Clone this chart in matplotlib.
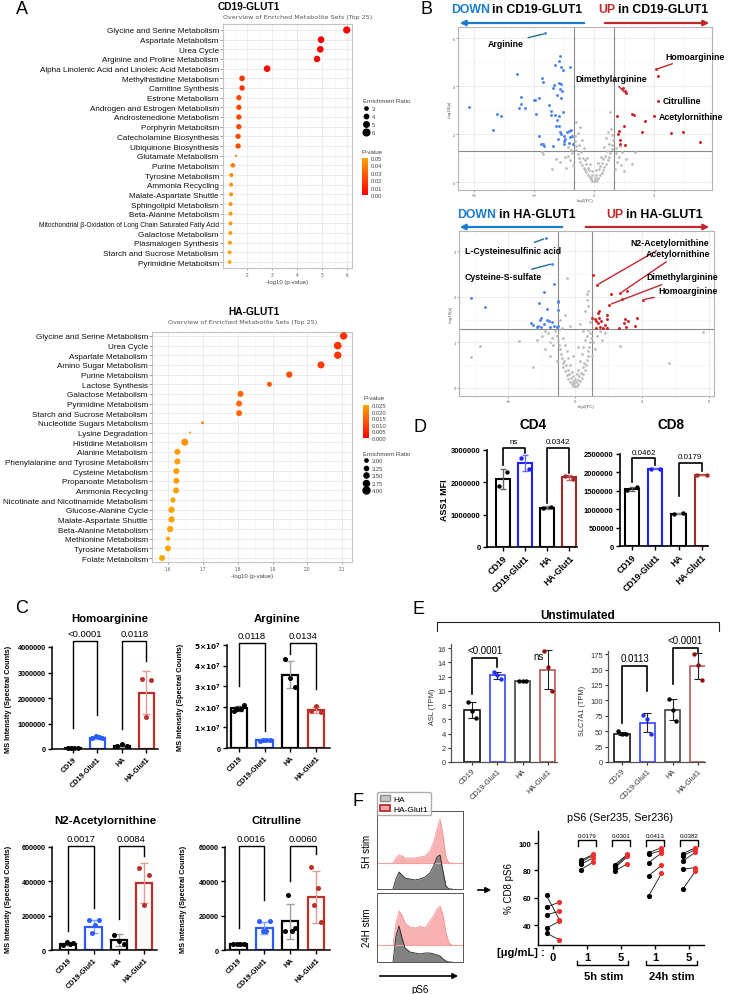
import numpy as np
import matplotlib
matplotlib.use('Agg')
import matplotlib.pyplot as plt
import matplotlib.transforms as mtrans
from matplotlib.colors import LinearSegmentedColormap, Normalize
from matplotlib.lines import Line2D
from matplotlib.patches import Patch, FancyArrowPatch
from matplotlib.ticker import AutoMinorLocator
from matplotlib import cm

plt.rcParams['font.family'] = ['Liberation Sans', 'DejaVu Sans']

# ---------------- A : enrichment data ----------------
cd19_sets = ['Glycine and Serine Metabolism', 'Aspartate Metabolism', 'Urea Cycle',
             'Arginine and Proline Metabolism', 'Alpha Linolenic Acid and Linoleic Acid Metabolism',
             'Methylhistidine Metabolism', 'Carnitine Synthesis', 'Estrone Metabolism',
             'Androgen and Estrogen Metabolism', 'Androstenedione Metabolism', 'Porphyrin Metabolism',
             'Catecholamine Biosynthesis', 'Ubiquinone Biosynthesis', 'Glutamate Metabolism',
             'Purine Metabolism', 'Tyrosine Metabolism', 'Ammonia Recycling', 'Malate-Aspartate Shuttle',
             'Sphingolipid Metabolism', 'Beta-Alanine Metabolism',
             'Mitochondrial β-Oxidation of Long Chain Saturated Fatty Acid', 'Galactose Metabolism',
             'Plasmalogen Synthesis', 'Starch and Sucrose Metabolism', 'Pyrimidine Metabolism']
cd19_logp = [5.99, 4.96, 4.93, 4.8, 2.8, 1.8, 1.8, 1.67, 1.67, 1.67, 1.67, 1.64, 1.64,
             1.55, 1.43, 1.37, 1.36, 1.36, 1.34, 1.34, 1.34, 1.33, 1.31, 1.3, 1.3]
cd19_er = [6.5, 6.0, 6.0, 5.8, 6.0, 5.1, 4.9, 4.8, 4.8, 4.8, 4.8, 4.8, 4.8,
           1.9, 4.2, 3.7, 3.6, 3.6, 3.6, 3.6, 3.6, 3.6, 3.7, 3.6, 3.5]

ha_sets = ['Glycine and Serine Metabolism', 'Urea Cycle', 'Aspartate Metabolism', 'Amino Sugar Metabolism',
           'Purine Metabolism', 'Lactose Synthesis', 'Galactose Metabolism', 'Pyrimidine Metabolism',
           'Starch and Sucrose Metabolism', 'Nucleotide Sugars Metabolism', 'Lysine Degradation',
           'Histidine Metabolism', 'Alanine Metabolism', 'Phenylalanine and Tyrosine Metabolism',
           'Cysteine Metabolism', 'Propanoate Metabolism', 'Ammonia Recycling',
           'Nicotinate and Nicotinamide Metabolism', 'Glucose-Alanine Cycle', 'Malate-Aspartate Shuttle',
           'Beta-Alanine Metabolism', 'Methionine Metabolism', 'Tyrosine Metabolism', 'Folate Metabolism']
ha_logp = [2.104, 2.087, 2.087, 2.039, 1.948, 1.891, 1.808, 1.804, 1.804, 1.699, 1.663, 1.648,
           1.627, 1.627, 1.624, 1.624, 1.623, 1.614, 1.61, 1.61, 1.606, 1.6, 1.6, 1.583]
ha_er = [4.1, 4.2, 4.1, 4.0, 3.8, 3.45, 3.73, 3.73, 3.73, 2.9, 2.65, 4.0,
         3.73, 3.73, 3.73, 3.73, 3.73, 3.55, 3.8, 3.8, 3.8, 3.27, 3.73, 3.73]

cd19_er_legend = [3, 4, 5, 6]
ha_er_legend = [3.00, 3.25, 3.50, 3.75, 4.00]

# ---------------- B : volcano data (log2FC, -log10 p) ----------------
cd19_blue_x = [-2.43, -3.83, -6.23, -4.87, -4.63, -5.03, -3.63, -3.63, -3.77, -3.47, -3.0, -2.93, -2.77,
               -2.62, -2.53, -2.9, -2.25, -2.13, -2.07, -2.0, -1.93, -1.75, -1.72, -1.63, -1.53, -1.22,
               -1.73, -1.67, -1.7, -1.6, -1.83, -1.63, -1.95, -1.73, -2.15, -1.85, -1.73, -1.7, -1.67,
               -1.5, -1.37, -1.25, -1.15, -1.1, -1.2, -1.25, -1.05, -1.48, -1.88, -1.53, -2.77, -2.65,
               -2.53, -2.52, -2.05, -1.52, -1.43, -1.8]
cd19_blue_y = [6.19, 4.49, 3.13, 2.85, 2.75, 2.18, 3.53, 3.26, 3.08, 3.08, 3.42, 3.42, 3.51,
               4.33, 4.17, 2.82, 3.22, 2.96, 3.92, 4.03, 4.86, 5.06, 5.25, 4.78, 4.68, 4.79,
               4.11, 4.08, 3.86, 3.79, 3.61, 3.51, 2.78, 2.75, 2.78, 2.58, 2.33, 2.08, 1.99,
               1.92, 2.08, 2.14, 2.19, 1.94, 1.88, 1.64, 1.6, 1.57, 2.32, 2.92, 1.94, 1.58,
               1.58, 1.5, 1.49, 1.71, 1.79, 1.81]
cd19_red_x = [3.08, 3.22, 1.45, 1.53, 1.58, 3.22, 3.0, 1.15, 1.92, 1.98, 2.55, 1.52, 1.25, 1.18,
              2.42, 3.83, 4.47, 5.28, 1.3, 1.32, 1.55]
cd19_red_y = [4.69, 4.43, 3.92, 3.78, 3.69, 3.38, 2.76, 2.75, 2.82, 2.79, 2.54, 2.33, 2.11, 2.0,
              2.08, 2.03, 2.1, 1.65, 1.75, 1.58, 1.56]
cd19_grey = [(0.0, 0.03), (0.08, 0.06), (-0.08, 0.05), (0.15, 0.1), (-0.15, 0.12), (0.22, 0.18),
             (-0.22, 0.2), (0.3, 0.28), (-0.3, 0.3), (0.38, 0.38), (-0.38, 0.4), (0.45, 0.5),
             (-0.45, 0.5), (0.52, 0.62), (-0.52, 0.6), (0.6, 0.75), (-0.6, 0.72), (0.68, 0.9),
             (-0.68, 0.85), (0.75, 1.05), (-0.75, 1.0), (0.82, 1.2), (-0.82, 1.15), (0.88, 1.38),
             (-0.88, 1.32), (0.92, 1.55), (-0.92, 1.5), (0.95, 1.75), (-0.95, 1.7), (0.9, 1.95),
             (-0.97, 1.9), (0.78, 2.9), (-0.92, 2.5), (0.85, 2.2), (0.55, 1.1), (-0.55, 1.0),
             (0.4, 0.8), (-0.4, 0.75), (0.25, 0.55), (-0.25, 0.5), (0.1, 0.3), (-0.1, 0.28),
             (0.65, 1.3), (-0.65, 1.25), (0.75, 1.6), (-0.75, 1.55), (0.5, 1.45), (-0.5, 1.4),
             (0.35, 1.05), (-0.35, 1.0), (0.2, 0.8), (-0.2, 0.75), (0.6, 1.85), (-0.6, 1.75),
             (-0.8, 2.05), (0.7, 2.1), (-0.7, 2.3), (1.1, 1.2), (1.25, 1.05), (1.4, 1.25),
             (1.15, 0.85), (1.35, 0.7), (1.05, 0.55), (1.6, 0.95), (1.9, 0.75), (2.05, 1.25),
             (1.5, 0.45), (-1.1, 1.2), (-1.3, 1.1), (-1.2, 0.9), (-1.05, 0.7), (-1.45, 1.05),
             (-1.7, 0.85), (-1.9, 0.95), (-2.1, 0.55), (-2.6, 1.25), (-2.55, 1.15), (-1.4, 0.6),
             (-1.15, 1.35), (-1.3, 1.45), (1.1, 1.4), (1.3, 1.5), (-0.15, 0.15), (0.05, 0.18),
             (-0.3, 0.6), (0.3, 0.65), (-0.45, 0.9), (0.45, 0.95), (-0.1, 0.45), (0.12, 0.5)]

ha_blue_x = [-1.76, -1.36, -1.28, -6.26, -5.4, -1.88, -2.16, -1.66, -1.04, -1.02, -1.03, -2.04, -2.08,
             -1.7, -1.56, -2.64, -2.5, -2.2, -2.06, -1.84, -1.36, -1.24, -1.48, -1.04, -1.1, -2.3]
ha_blue_y = [3.29, 2.73, 2.28, 1.98, 1.78, 2.11, 1.86, 1.73, 1.9, 1.88, 1.72, 1.53, 1.49,
             1.5, 1.47, 1.42, 1.38, 1.36, 1.33, 1.41, 1.44, 1.36, 1.33, 1.37, 1.33, 1.33]
ha_red_x = [1.3, 1.06, 2.7, 2.16, 3.1, 2.06, 2.82, 4.06, 1.44, 1.36, 1.94, 1.46, 1.2, 1.02, 1.9,
            1.26, 1.4, 1.56, 1.82, 1.24, 1.5, 1.7, 1.9, 2.98, 3.2, 3.7, 2.62, 3.06, 3.56, 2.94]
ha_red_y = [2.26, 2.49, 2.08, 2.06, 2.12, 1.83, 1.96, 1.94, 1.68, 1.64, 1.6, 1.53, 1.52, 1.54, 1.52,
            1.46, 1.43, 1.48, 1.39, 1.32, 1.33, 1.31, 1.32, 1.52, 1.48, 1.53, 1.32, 1.33, 1.36, 1.42]
ha_grey = [(-0.1, 0.03), (0.0, 0.05), (0.1, 0.04), (-0.2, 0.08), (0.2, 0.08), (-0.05, 0.1), (0.05, 0.12),
           (-0.3, 0.12), (0.3, 0.14), (-0.15, 0.16), (0.15, 0.18), (-0.4, 0.2), (0.4, 0.22), (-0.25, 0.22),
           (0.25, 0.25), (-0.5, 0.28), (0.5, 0.3), (-0.35, 0.3), (0.35, 0.33), (-0.6, 0.36), (0.6, 0.4),
           (-0.45, 0.4), (0.45, 0.45), (-0.7, 0.45), (0.65, 0.5), (-0.55, 0.5), (0.55, 0.55), (-0.75, 0.55),
           (0.7, 0.62), (-0.65, 0.6), (0.75, 0.7), (-0.8, 0.65), (0.8, 0.8), (-0.85, 0.75), (0.85, 0.9),
           (-0.9, 0.85), (0.9, 1.0), (-0.95, 0.95), (0.95, 1.1), (-1.0, 1.05), (0.9, 1.2), (-1.1, 1.15),
           (0.8, 1.28), (-1.2, 1.25), (-0.2, 0.35), (0.2, 0.4), (-0.3, 0.5), (0.3, 0.6), (-0.4, 0.65),
           (0.4, 0.75), (0.5, 0.9), (-0.5, 0.8), (0.6, 1.05), (-0.6, 0.95), (0.7, 1.15), (-0.7, 1.1),
           (0.0, 0.2), (0.1, 0.3), (-0.1, 0.25), (-1.4, 1.1), (-1.6, 1.2), (-1.8, 1.25), (-1.3, 0.95),
           (-1.5, 1.0), (-2.0, 1.15), (-2.3, 1.05), (-2.5, 0.45), (-3.36, 1.03), (-5.7, 0.92),
           (-6.26, 0.67), (1.1, 1.0), (1.3, 1.15), (1.5, 1.25), (1.2, 0.85), (1.6, 1.05), (1.8, 1.2),
           (2.7, 0.92), (5.64, 0.55), (7.64, 1.22), (-0.46, 2.42), (0.8, 2.14), (0.74, 2.06), (0.7, 1.94),
           (0.75, 1.8), (0.6, 1.7), (-0.6, 1.6), (-0.9, 1.5), (0.9, 1.45), (-0.3, 1.35), (0.3, 1.4),
           (-0.8, 1.32), (0.5, 1.25), (-1.5, 0.7), (-1.1, 0.6), (-1.8, 0.85), (1.0, 0.7), (-0.15, 0.7),
           (0.15, 0.9)]

# ---------------- C / D / E : bar data ----------------
groups = ['CD19', 'CD19-Glut1', 'HA', 'HA-Glut1']

homo_mean = [50000, 450000, 130000, 2210000]
homo_sd = [15000, 50000, 40000, 830000]
homo_pts = [[45000, 50000, 55000, 50000], [420000, 500000, 480000, 430000],
            [100000, 180000, 100000], [2730000, 1260000, 2690000]]
arg_mean = [1.92e7, 3.7e6, 3.55e7, 1.85e7]
arg_sd = [1.2e6, 4e5, 6.6e6, 1.6e6]
arg_pts = [[1.81e7, 1.88e7, 1.9e7, 2.1e7], [3.5e6, 3.8e6, 4.0e6, 3.7e6],
           [4.3e7, 3.4e7, 2.96e7], [1.78e7, 2.05e7, 1.75e7]]
n2_mean = [36000, 136000, 60000, 390000]
n2_sd = [7000, 38000, 35000, 115000]
n2_pts = [[30000, 45000, 35000, 38000], [172000, 100000, 145000, 172000],
          [90000, 55000, 35000], [475000, 265000, 435000]]
cit_mean = [3500, 13000, 16750, 31000]
cit_sd = [300, 3500, 10200, 15000]
cit_pts = [[3500, 3700, 3400, 3600], [17000, 11000, 11000, 17000],
           [11000, 32000, 11000, 13000], [48500, 26000, 36000, 16500]]

cd4_mean = [2.1e6, 2.6e6, 1.22e6, 2.15e6]
cd4_sd = [0.3e6, 0.24e6, 0.035e6, 0.07e6]
cd4_pts = [[1.9e6, 2.32e6], [2.75e6, 2.41e6], [1.2e6, 1.25e6], [2.2e6, 2.1e6]]
cd8_mean = [1.55e6, 2.1e6, 0.88e6, 1.93e6]
cd8_sd = [0.05e6, 0.01e6, 0.02e6, 0.01e6]
cd8_pts = [[1.52e6, 1.6e6], [2.1e6, 2.1e6], [0.87e6, 0.9e6], [1.93e6, 1.93e6]]

asl_mean = [7.3, 12.2, 11.4, 13.0]
asl_sd = [1.1, 0.5, 0.05, 2.8]
asl_pts = [[8.4, 7.2, 6.2], [12.7, 12.2, 11.7], [11.4, 11.4, 11.45], [15.6, 13.4, 10.0]]
slc_mean = [46, 64, 85, 155]
slc_sd = [3, 16, 17, 21]
slc_pts = [[50, 46, 45], [77, 70, 46], [102, 85, 66], [175, 157, 133]]

# ---------------- F : pS6 data ----------------
stim_ticks = ['0', '1', '5', '1', '5']
ps6_ha = [[61.7, 53.2, 47.6, 37.8, 34.1], [87.3, 86.1, 84.4, 80.5], [84.1, 82.9, 81.5, 79.5],
          [92.9, 91.7, 85.6, 76.1, 61.2], [92.2, 90.5, 86.6, 81.0, 66.1]]
ps6_glut = [[43.9, 56.8, 50.2, 42.9, 29.3], [91.7, 91.0, 89.3, 86.1], [91.7, 91.0, 90.2, 84.9],
            [96.6, 94.6, 92.7, 83.7, 77.8], [96.6, 95.4, 93.4, 82.0, 79.5]]
ps6_p = ['0.0179', '0.0301', '0.0413', '0.0382']

hist_pos = [18.6, 22.1, 25.6, 29.1, 32.6, 38.4, 44.2, 50.0, 55.8, 61.6, 66.3, 69.8, 73.3, 76.7, 80.2, 83.7, 87.2]
h5_glut = [0, 5, 8, 7, 5, 5, 5, 6, 7, 12, 22, 34, 44, 28, 6, 0, 0]
h5_ha = [0, 10, 17, 14, 11, 10, 9, 10, 12, 16, 24, 32, 34, 18, 3, 0, 0]
h24_glut = [0, 22, 34, 30, 22, 18, 17, 19, 17, 24, 30, 36, 39, 30, 12, 2, 0]
h24_ha = [0, 26, 36, 24, 14, 10, 9, 8, 9, 9, 8, 7, 6, 3, 1, 0, 0]

# ---------------- figure helpers ----------------
W, H = 729, 995
fig = plt.figure(figsize=(W / 100, H / 100), dpi=100)


def px_ax(l, t, r, b):
    return fig.add_axes([l / W, 1 - b / H, (r - l) / W, (b - t) / H])


def ftext(x, y, s, **kw):
    kw.setdefault('va', 'center')
    fig.text(x / W, 1 - y / H, s, **kw)


def fline(xs, ys, **kw):
    fig.add_artist(Line2D([x / W for x in xs], [1 - y / H for y in ys], **kw))


def farrow(x1, y1, x2, y2, color, lw=1.6, ms=8):
    fig.add_artist(FancyArrowPatch((x1 / W, 1 - y1 / H), (x2 / W, 1 - y2 / H), transform=fig.transFigure,
                                   arrowstyle='-|>', mutation_scale=ms, color=color, lw=lw))


pcmap = LinearSegmentedColormap.from_list('pv', ['#ff0000', '#ff5200', '#ffa500'])


def enrich(ax, names, logp, er, pmax, d0, dk, xl, xr, xticks, pad):
    y = np.arange(len(names))
    pv = 10.0 ** (-np.asarray(logp))
    d = d0 + (np.asarray(er) - 3) * dk
    ax.scatter(logp, y, s=(d * 0.72) ** 2, c=pv, cmap=pcmap, vmin=0, vmax=pmax, lw=0, zorder=3)
    ax.set_xlim(xl, xr)
    ax.set_ylim(len(names) - 1 + pad, -pad)
    ax.set_yticks(y)
    ax.set_yticklabels(names, fontsize=5.85, color='#111')
    ax.set_xticks(xticks)
    ax.set_xticklabels([('%g' % v) for v in xticks])
    ax.xaxis.set_minor_locator(AutoMinorLocator(2))
    ax.grid(which='major', color='#e4e4e4', lw=0.5)
    ax.grid(which='minor', axis='x', color='#efefef', lw=0.4)
    ax.set_axisbelow(True)
    for s in ax.spines.values():
        s.set_color('#c4c4c4')
        s.set_linewidth(0.8)
    ax.tick_params(axis='x', which='both', labelsize=3.3, colors='#555', length=1.5, width=0.4, pad=1.5)
    ax.tick_params(axis='x', which='minor', length=0)
    ax.tick_params(axis='y', length=2, width=0.4, color='#555', pad=1)
    ax.set_xlabel('-log10 (p-value)', fontsize=4.3, color='#444', labelpad=1.5)
    return d0, dk


def er_legend(ax, vals, d0, dk, x, y, fmt, spacing):
    hs = [Line2D([], [], marker='o', ls='', color='k', markersize=(d0 + (v - 3) * dk) * 0.72) for v in vals]
    leg = ax.legend(hs, [fmt % v for v in vals], title='Enrichment Ratio', loc='upper left',
                    bbox_to_anchor=(x / W, 1 - y / H), bbox_transform=fig.transFigure, frameon=False,
                    fontsize=4.2, title_fontsize=4.5, labelspacing=spacing, handletextpad=0.6,
                    borderpad=0, handlelength=1.0, alignment='left')
    leg.get_title().set_color('#444')
    for t in leg.get_texts():
        t.set_color('#444')


def p_colorbar(l, t, r, b, pmax, ticks, fmt, ty):
    cax = px_ax(l, t, r, b)
    sm = cm.ScalarMappable(norm=Normalize(0, pmax), cmap=pcmap)
    cb = fig.colorbar(sm, cax=cax, ticks=ticks)
    cb.outline.set_visible(False)
    cb.ax.set_yticklabels([fmt % v for v in ticks])
    cax.tick_params(labelsize=4.2, length=0, pad=2, colors='#444')
    ftext(l, ty, 'P-value', fontsize=4.5, color='#444', ha='left')


def volcano(ax, grey, bx, by, rx, ry, xl, xr, yb, yt, xticks, yticks):
    g = np.array(grey).T
    ax.scatter(g[0], g[1], s=4, color='#bdbdbd', lw=0, zorder=2)
    ax.scatter(bx, by, s=4.5, color='#4f86ec', lw=0, zorder=3)
    ax.scatter(rx, ry, s=4.5, color='#d11f1f', lw=0, zorder=3)
    for v in (-1, 1):
        ax.axvline(v, color='#8a8a8a', lw=0.8, zorder=1)
    ax.axhline(1.3, color='#8a8a8a', lw=0.8, zorder=1)
    ax.set_xlim(xl, xr)
    ax.set_ylim(yb, yt)
    ax.set_xticks(xticks)
    ax.set_yticks(yticks)
    ax.xaxis.set_minor_locator(AutoMinorLocator(2))
    ax.yaxis.set_minor_locator(AutoMinorLocator(2))
    ax.grid(which='major', color='#e6e6e6', lw=0.5)
    ax.grid(which='minor', color='#f1f1f1', lw=0.4)
    ax.set_axisbelow(True)
    for s in ax.spines.values():
        s.set_color('#b5b5b5')
        s.set_linewidth(0.8)
    ax.tick_params(which='both', labelsize=3, colors='#666', length=1.2, width=0.4, pad=1)
    ax.tick_params(which='minor', length=0)
    ax.set_xlabel('log2(FC)', fontsize=3.2, color='#555', labelpad=1)
    ax.set_ylabel('-log10(p)', fontsize=3.2, color='#555', labelpad=1)


def vlabel(ax, text, xy, xytext, color, ha='center'):
    ax.annotate(text, xy=xy, xytext=xytext, fontsize=6.3, fontweight='bold', ha=ha, va='center',
                arrowprops=dict(arrowstyle='-', color=color, lw=1.0, shrinkA=1, shrinkB=1.5),
                annotation_clip=False, zorder=6)


def bar_panel(ax, means, sds, pts, edges, ecols, bw, blw, ms, cap=3, elw=1.0):
    x = np.arange(len(means))
    ax.bar(x, means, width=bw, color='white', edgecolor=edges, linewidth=blw, zorder=2)
    for i in range(len(means)):
        ax.errorbar(x[i], means[i], yerr=sds[i], fmt='none', ecolor=ecols[i], elinewidth=elw,
                    capsize=cap, capthick=elw, zorder=3)
        n = len(pts[i])
        offs = np.linspace(-0.2, 0.2, n) if n > 1 else np.zeros(1)
        ax.scatter(x[i] + offs, pts[i], s=ms, color=edges[i], lw=0, zorder=4, clip_on=False)
    for s in ('top', 'right'):
        ax.spines[s].set_visible(False)
    ax.set_xticks(x)


def brackets(ax, brk, fs, lw=1.0, color='k'):
    for i, j, top, li, lj, lab in brk:
        ax.plot([i, i, j, j], [li, top, top, lj], color=color, lw=lw, clip_on=False, zorder=5)
        ax.annotate(lab, xy=((i + j) / 2, top), xytext=(0, 2), textcoords='offset points',
                    ha='center', va='bottom', fontsize=fs, annotation_clip=False)


# ================= Panel A =================
ax = px_ax(223, 25, 352, 269)
d0, dk = enrich(ax, cd19_sets, cd19_logp, cd19_er, 0.05, 3.3, 1.13, 1.036, 6.2, [2, 3, 4, 5, 6], 0.62)
ax.get_yticklabels()[20].set_fontsize(4.8)
ftext(249, 7, 'CD19-GLUT1', fontsize=7.3, fontweight='bold', ha='center')
ftext(223, 17, 'Overview of Enriched Metabolite Sets (Top 25)', fontsize=4.6, color='#555',
      family='DejaVu Sans', ha='left')
er_legend(ax, cd19_er_legend, d0, dk, 360, 96, '%g', 0.5)
p_colorbar(362, 159, 368, 196, 0.05, [0, 0.01, 0.02, 0.03, 0.04, 0.05], '%.2f', 153)

ax = px_ax(152, 333, 352, 563)
d0, dk = enrich(ax, ha_sets, ha_logp, ha_er, 0.025, 3.3, 3.7, 1.554, 2.128, [1.6, 1.7, 1.8, 1.9, 2.0, 2.1], 0.41)
ax.set_xticklabels(['1.6', '1.7', '1.8', '1.9', '2.0', '2.1'])
ftext(254, 312, 'HA-GLUT1', fontsize=7.3, fontweight='bold', ha='center')
ftext(243, 323, 'Overview of Enriched Metabolite Sets (Top 25)', fontsize=4.6, color='#555',
      family='DejaVu Sans', ha='center')
p_colorbar(363, 406, 369, 439, 0.025, [0, 0.005, 0.01, 0.015, 0.02, 0.025], '%.3f', 399)
er_legend(ax, ha_er_legend, d0, dk, 360, 449, '%.2f', 0.4)

# ================= Panel B =================
blue_c, red_c = '#1b7ccf', '#c0282d'
ftext(451, 10, 'DOWN', fontsize=8.8, fontweight='bold', color=blue_c, ha='left')
ftext(492, 10, 'in CD19-GLUT1', fontsize=8.8, fontweight='bold', ha='left')
ftext(598, 10, 'UP', fontsize=8.8, fontweight='bold', color=red_c, ha='left')
ftext(618, 10, 'in CD19-GLUT1', fontsize=8.8, fontweight='bold', ha='left')
farrow(587, 24, 457, 24, blue_c)
farrow(602, 24, 712, 24, red_c)

ax = px_ax(458, 28, 712, 191)
volcano(ax, cd19_grey, cd19_blue_x, cd19_blue_y, cd19_red_x, cd19_red_y, -6.8, 5.9, -0.33, 6.46,
        [-6, -3, 0, 3], [0, 2, 4, 6])
vlabel(ax, 'Arginine', (cd19_blue_x[0], cd19_blue_y[0]), (-4.4, 5.79), '#1f6f8b')
vlabel(ax, 'Homoarginine', (cd19_red_x[0], cd19_red_y[0]), (5.05, 5.25), red_c)
vlabel(ax, 'Dimethylarginine', (cd19_red_x[4], cd19_red_y[4]), (0.85, 4.33), red_c)
vlabel(ax, 'Citrulline', (cd19_red_x[5], cd19_red_y[5]), (3.45, 3.38), red_c, ha='left')
vlabel(ax, 'Acetylornithine', (cd19_red_x[6], cd19_red_y[6]), (3.25, 2.75), red_c, ha='left')

ftext(457, 215, 'DOWN', fontsize=8.8, fontweight='bold', color=blue_c, ha='left')
ftext(499, 215, 'in HA-GLUT1', fontsize=8.8, fontweight='bold', ha='left')
ftext(606, 215, 'UP', fontsize=8.8, fontweight='bold', color=red_c, ha='left')
ftext(626, 215, 'in HA-GLUT1', fontsize=8.8, fontweight='bold', ha='left')
farrow(565, 228, 457, 228, blue_c)
farrow(583, 228, 712, 228, red_c)

ax = px_ax(459, 232, 714, 397)
volcano(ax, ha_grey, ha_blue_x, ha_blue_y, ha_red_x, ha_red_y, -6.95, 8.32, -0.18, 3.45,
        [-4, 0, 4, 8], [0, 1, 2, 3])
vlabel(ax, 'L-Cysteinesulfinic acid', (ha_blue_x[0], ha_blue_y[0]), (-3.71, 3.03), '#1f6f8b')
vlabel(ax, 'Cysteine-S-sulfate', (ha_blue_x[1], ha_blue_y[1]), (-4.31, 2.44), '#1f6f8b')
vlabel(ax, 'N2-Acetylornithine', (ha_red_x[0], ha_red_y[0]), (5.69, 3.19), red_c)
vlabel(ax, 'Acetylornithine', (ha_red_x[2], ha_red_y[2]), (6.17, 2.95), red_c)
vlabel(ax, 'Dimethylarginine', (ha_red_x[5], ha_red_y[5]), (6.41, 2.44), red_c)
vlabel(ax, 'Homoarginine', (ha_red_x[7], ha_red_y[7]), (6.77, 2.13), red_c)

# ================= Panel C =================
c_edges = ['#000000', '#2a5cff', '#000000', '#b8322a']
c_err = ['#555555', '#7fa3ff', '#a0a0a0', '#e59b94']


def c_panel(l, t, r, b, xl, xr, means, sds, pts, ytop, yticks, ylabels, brk, title, tx, ty, lx):
    ax = px_ax(l, t, r, b)
    bar_panel(ax, means, sds, pts, c_edges, c_err, 0.64, 1.6, 13)
    ax.set_xlim(xl, xr)
    ax.set_ylim(0, ytop)
    ax.set_yticks(yticks)
    ax.set_yticklabels(ylabels, fontsize=5.2, fontweight='bold')
    ax.set_xticklabels(groups, rotation=45, ha='right', rotation_mode='anchor', fontsize=5.2,
                       fontweight='bold')
    ax.spines['left'].set_linewidth(1.1)
    ax.spines['bottom'].set_linewidth(1.1)
    ax.tick_params(length=3, width=1, pad=1.5)
    brackets(ax, brk, 6.8)
    ftext(tx, ty, title, fontsize=8.2, fontweight='bold', ha='center')
    ftext(lx, (t + b) / 2, 'MS Intensity (Spectral Counts)', fontsize=5.3, fontweight='bold',
          rotation=90, ha='center')
    return ax


c_panel(52, 648, 158, 750, -0.85, 3.47, homo_mean, homo_sd, homo_pts, 4e6,
        [0, 1e6, 2e6, 3e6, 4e6], ['0', '1000000', '2000000', '3000000', '4000000'],
        [(0, 1, 4.23e6, 0.83e6, 1.32e6, '<0.0001'), (2, 3, 4.23e6, 0.79e6, 3.44e6, '0.0118')],
        'Homoarginine', 110, 619, 9)
c_panel(227, 646, 330, 749, -0.47, 3.55, arg_mean, arg_sd, arg_pts, 5e7,
        [0, 1e7, 2e7, 3e7, 4e7, 5e7],
        ['0'] + [r'$\mathbf{%d{\times}10^{7}}$' % k for k in range(1, 6)],
        [(0, 1, 5.1e7, 3.0e7, 0.82e7, '0.0118'), (2, 3, 5.1e7, 4.55e7, 2.85e7, '0.0134')],
        'Arginine', 277, 619, 180)
c_panel(52, 848, 157, 951, -0.65, 3.52, n2_mean, n2_sd, n2_pts, 6e5,
        [0, 2e5, 4e5, 6e5], ['0', '200000', '400000', '600000'],
        [(0, 1, 6.05e5, 1.1e5, 2.44e5, '0.0017'), (2, 3, 6.05e5, 1.8e5, 5.47e5, '0.0084')],
        'N2-Acetylornithine', 105, 821, 9)
c_panel(225, 848, 330, 951, -0.53, 3.55, cit_mean, cit_sd, cit_pts, 6e4,
        [0, 2e4, 4e4, 6e4], ['0', '20000', '40000', '60000'],
        [(0, 1, 6.05e4, 1.3e4, 2.9e4, '0.0016'), (2, 3, 6.05e4, 4.0e4, 5.57e4, '0.0060')],
        'Citrulline', 277, 821, 184)

# ================= Panel D =================
d_edges = ['#000000', '#2020ff', '#000000', '#a52a2a']
d_err = ['#666666', '#6a6aff', '#888888', '#c46a6a']


def d_panel(l, t, r, b, xl, xr, means, sds, pts, ytop, yticks, brk, title, tx):
    ax = px_ax(l, t, r, b)
    bar_panel(ax, means, sds, pts, d_edges, d_err, 0.62, 1.5, 10, cap=2.5)
    ax.set_xlim(xl, xr)
    ax.set_ylim(0, ytop)
    ax.set_yticks(yticks)
    ax.set_yticklabels(['%d' % v for v in yticks], fontsize=5.5, fontweight='bold')
    ax.set_xticklabels(groups, rotation=45, ha='right', rotation_mode='anchor', fontsize=6.3,
                       fontweight='bold')
    ax.spines['left'].set_linewidth(1.2)
    ax.spines['bottom'].set_linewidth(1.2)
    ax.tick_params(length=3, width=1, pad=1.5)
    brackets(ax, brk, 5.8, lw=1.2)
    ftext(tx, 425, title, fontsize=9.8, fontweight='bold', ha='center')
    return ax


d_panel(487, 451, 577, 548, -0.73, 3.36, cd4_mean, cd4_sd, cd4_pts, 3e6, [0, 1000000, 2000000, 3000000],
        [(0, 1, 3.07e6, 2.55e6, 2.9e6, 'ns'), (2, 3, 3.07e6, 1.35e6, 2.28e6, '0.0342')], 'CD4', 533)
d_panel(620, 455, 708, 547, -0.51, 3.26, cd8_mean, cd8_sd, cd8_pts, 2.5e6,
        [0, 500000, 1000000, 1500000, 2000000, 2500000],
        [(0, 1, 2.38e6, 1.75e6, 2.2e6, '0.0462'), (2, 3, 2.25e6, 1.35e6, 2.05e6, '0.0179')], 'CD8', 671)
ftext(445, 500, 'ASS1 MFI', fontsize=6.5, fontweight='bold', rotation=90, ha='center')

# ================= Panel E =================
e_edges = ['#111111', '#3344ff', '#444444', '#b55a5a']
e_pts = ['#000000', '#2233ee', '#000000', '#8b1010']


def e_panel(l, t, r, b, xl, xr, means, sds, pts, ytop, yticks, brk, ylab, lx, ly):
    ax = px_ax(l, t, r, b)
    x = np.arange(4)
    ax.bar(x, means, width=0.6, color='white', edgecolor=e_edges, linewidth=1.2, zorder=2)
    for i in range(4):
        ax.errorbar(x[i], means[i], yerr=sds[i], fmt='none', ecolor='#222', elinewidth=0.8,
                    capsize=3, capthick=0.8, zorder=3)
        offs = np.linspace(-0.15, 0.15, len(pts[i]))
        ax.scatter(x[i] + offs, pts[i], s=10, color=e_pts[i], lw=0, zorder=4)
    for s in ('top', 'right'):
        ax.spines[s].set_visible(False)
    for s in ('left', 'bottom'):
        ax.spines[s].set_color('#555')
        ax.spines[s].set_linewidth(0.9)
    ax.set_xlim(xl, xr)
    ax.set_ylim(0, ytop)
    ax.set_yticks(yticks)
    ax.set_xticks(x)
    ax.set_xticklabels(groups, rotation=45, ha='right', rotation_mode='anchor', fontsize=5.6, color='#333')
    ax.tick_params(labelsize=5.4, colors='#333', length=2.5, width=0.8, pad=1.2)
    brackets(ax, brk, 7, lw=1.2)
    ftext(lx, ly, ylab, fontsize=5.3, color='#333', rotation=90, ha='center')
    return ax


ax = e_panel(451, 645, 557, 763, -0.83, 3.36, asl_mean, asl_sd, asl_pts, 16.6, [0, 2, 4, 6, 8, 10, 12, 14, 16],
             [(0, 1, 14.6, 9.6, 13.3, '<0.0001')], 'ASL (TPM)', 432, 707)
ax.text(2.65, 14.9, 'ns', fontsize=7, ha='center', va='center')
e_panel(608, 652, 705, 763, -0.55, 3.28, slc_mean, slc_sd, slc_pts, 180, [0, 25, 50, 75, 100, 125, 150, 175],
        [(0, 1, 156, 64, 115, '0.0113'), (2, 3, 185, 126, 178, '<0.0001')], 'SLC7A1 (TPM)', 583, 711)
ftext(578, 616, 'Unstimulated', fontsize=8.5, fontweight='bold', ha='center')
fline([437, 437, 719, 719], [632, 623, 623, 632], color='#222', lw=0.8)

# ================= Panel F =================
for (t, b, glut, ha_, off, top) in [(812, 890, h5_glut, h5_ha, 26, 78), (894, 963, h24_glut, h24_ha, 17, 69)]:
    hax = px_ax(377, t, 463, b)
    gl = off + np.array(glut)
    hax.fill_between(hist_pos, off, gl, color='#f9b2b2', lw=0)
    hax.plot(hist_pos, gl, color='#f08a8a', lw=0.5)
    hax.axhline(off, color='#f4a0a0', lw=0.8)
    hax.fill_between(hist_pos, 0, ha_, color='#828282', lw=0)
    hax.plot(hist_pos, ha_, color='#222', lw=0.6)
    hax.set_xlim(0, 100)
    hax.set_ylim(0, top)
    hax.set_xticks([])
    hax.set_yticks([])
    for s in hax.spines.values():
        s.set_color('#555')
        s.set_linewidth(0.7)

ftext(367, 851, '5H stim', fontsize=7, rotation=90, ha='center')
ftext(367, 928, '24H stim', fontsize=7, rotation=90, ha='center')
farrow(377, 977, 461, 977, '#000', lw=1.2, ms=8)
ftext(420, 990, 'pS6', fontsize=7, ha='center')
farrow(475, 891, 494, 891, '#000', lw=1.2, ms=8)
fig.legend([Patch(fc='#c8c8c8', ec='#8a8a8a'), Patch(fc='#f4a6a6', ec='#b22222', lw=1.2)],
           ['HA', 'HA-Glut1'], loc='upper left', bbox_to_anchor=(377 / W, 1 - 793 / H), fontsize=6,
           frameon=True, handlelength=1.3, handleheight=0.9, borderpad=0.3, labelspacing=0.2,
           handletextpad=0.4, edgecolor='#999', fancybox=True, borderaxespad=0)

ax = px_ax(538, 832, 704, 946)
for k in range(5):
    xb = k - 0.19
    xr_ = k + 0.19
    for a, bb in zip(ps6_ha[k], ps6_glut[k]):
        ax.plot([xb, xr_], [a, bb], color='#111', lw=0.6, zorder=2)
    ax.scatter([xb] * len(ps6_ha[k]), ps6_ha[k], s=14, color='#000', lw=0, zorder=3)
    ax.scatter([xr_] * len(ps6_glut[k]), ps6_glut[k], s=14, color='#f03030', lw=0, zorder=3)
for k, lab in enumerate(ps6_p, start=1):
    ax.plot([k - 0.27, k - 0.27, k + 0.27, k + 0.27], [97.8, 102.2, 102.2, 97.8], color='k', lw=1.0,
            clip_on=False)
    ax.text(k, 104.0, lab, fontsize=4.4, ha='center', va='bottom')
ax.set_xlim(-0.44, 4.44)
ax.set_ylim(25.5, 108.8)
ax.set_yticks([40, 60, 80, 100])
ax.set_yticklabels(['40', '60', '80', '100'], fontsize=5.6, fontweight='bold')
ax.set_xticks(range(5))
ax.set_xticklabels(stim_ticks, fontsize=8, fontweight='bold')
for s in ('top', 'right'):
    ax.spines[s].set_visible(False)
ax.spines['left'].set_linewidth(1.0)
ax.spines['bottom'].set_linewidth(1.0)
ax.tick_params(length=3, width=1, pad=2)
ax.set_ylabel('% CD8 pS6', fontsize=7, labelpad=3)
tr = mtrans.blended_transform_factory(ax.transData, ax.transAxes)
for x1, x2 in [(0.7, 2.2), (2.74, 4.24)]:
    ax.plot([x1, x1, x2, x2], [-0.14, -0.175, -0.175, -0.14], transform=tr, color='k', lw=1.0, clip_on=False)
ftext(545, 953, '[μg/mL] :', fontsize=8, fontweight='bold', ha='right')
ftext(604, 977, '5h stim', fontsize=8, fontweight='bold', ha='center')
ftext(672, 977, '24h stim', fontsize=8, fontweight='bold', ha='center')
ftext(620, 818, 'pS6 (Ser235, Ser236)', fontsize=7.8, ha='center')

# ================= panel letters =================
for letter, x, y in [('A', 22, 9), ('B', 426, 9), ('C', 22, 609), ('D', 420, 428), ('E', 419, 610), ('F', 358, 802)]:
    ftext(x, y, letter, fontsize=13, ha='center')

fig.savefig('out.png', dpi=100)
